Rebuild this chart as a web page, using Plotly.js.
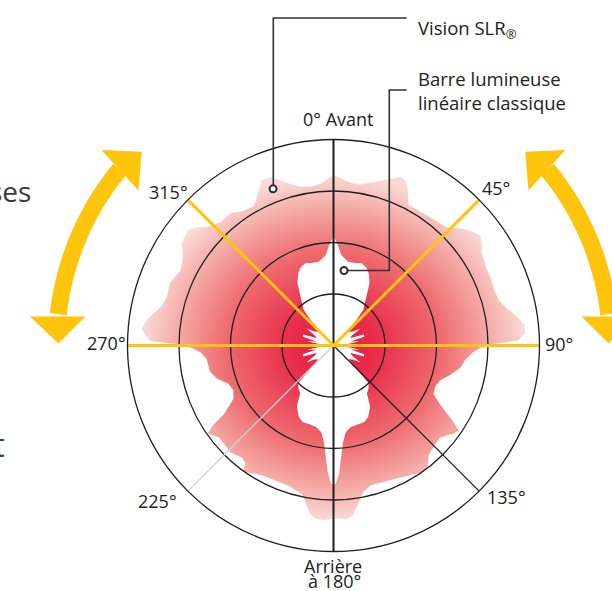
<!DOCTYPE html>
<html><head><meta charset="utf-8">
<script src="https://cdn.plot.ly/plotly-3.0.1.min.js"></script>
<style>html,body{margin:0;padding:0;background:#fff}#chart{width:612px;height:591px}</style>
</head><body><div id="chart"></div>
<script>
// ---- Data (compass angle in degrees, clockwise from "Avant"; radius in grid units) ----
const slrTheta = [0,3,6,9,13,17,20,22,24,26,28,32,37,41,44,47,50,53,55.5,57.5,60,63,67,71,75,78,81,84,86.5,88.5,89.5,91,93,96,100,104,108,112,116,119,122,124,126,128,131,135,139,142,145,149,154,160,165,168.5,171.5,173.5,176,178,180,183,186,188,190,192,198,203,208,212,215.5,217,219,224,228,231,235,236.5,238,242,246,250,254,258,264,267,269,270.5,271.3,273,275,278,280,283,286,291,296,300.5,304,308.5,311,313,318,322,326,330,332,334,336.5,339.5,342,344,348,352,356];
const slrR     = [3.31,3.24,3.18,3.16,3.25,3.36,3.47,3.53,3.48,3.30,3.10,3.09,3.12,3.14,3.18,3.34,3.47,3.56,3.50,3.40,3.36,3.33,3.32,3.30,3.33,3.45,3.60,3.74,3.72,3.58,3.05,2.85,2.70,2.58,2.50,2.34,2.18,2.13,2.16,2.37,2.70,2.93,2.90,2.82,2.73,2.76,2.82,2.97,3.01,2.93,2.86,2.82,2.81,2.90,3.14,3.32,3.38,3.36,3.36,3.40,3.38,3.30,3.10,2.95,2.86,2.85,2.87,2.93,3.02,2.85,2.81,2.88,2.86,2.85,2.98,2.80,2.50,2.20,2.13,2.17,2.35,2.45,2.48,2.58,2.75,3.00,3.55,3.65,3.74,3.65,3.55,3.42,3.37,3.40,3.31,3.39,3.55,3.61,3.50,3.37,3.24,3.26,3.15,3.11,3.20,3.32,3.50,3.49,3.38,3.28,3.15,3.12,3.16];

const barTheta = [0,2,5,10,15,19,23,26,30,34,37,40,42,43,48,54,58,62,66,70,74,77,81,84,88,92,96,99,103,106,110,114,118,122,126,132,134,136,137,141,145,149,154,158,163,168,172,174.5,176,177.5,179,180,181,182.5,184,185.5,188,192,197,202,206,211,215,219,223,224,226,228,234,238,242,246,250,254,257,261,264,268,272,276,279,283,286,290,294,298,302,306,312,317,318,320,323,326,330,334,337,341,345,350,355,358];
const barR     = [2.12,1.99,1.76,1.65,1.66,1.69,1.64,1.56,1.40,1.15,1.01,0.90,0.67,0.45,0.40,0.46,0.62,0.40,0.36,0.63,0.62,0.34,0.52,0.28,0.50,0.50,0.28,0.52,0.34,0.62,0.63,0.36,0.40,0.62,0.46,0.40,0.50,0.80,1.00,1.08,1.13,1.38,1.54,1.60,1.60,1.62,1.70,1.90,2.16,2.49,2.68,2.71,2.68,2.49,2.16,1.90,1.70,1.62,1.60,1.60,1.54,1.38,1.13,1.08,1.00,0.80,0.50,0.40,0.46,0.62,0.40,0.36,0.63,0.62,0.34,0.52,0.28,0.50,0.50,0.28,0.52,0.34,0.62,0.63,0.36,0.40,0.62,0.46,0.40,0.45,0.67,0.90,1.01,1.15,1.40,1.56,1.64,1.69,1.66,1.65,1.76,1.99];

const ringVals = [1, 2, 3];
const radialMax = 4;
const angleTickVals = [0, 45, 90, 135, 180, 225, 270, 315];
const angleTickText = ['0° Avant', '45°', '90°', '135°', 'Arrière<br>à 180°', '225°', '270°', '315°'];

const yellowAxisTheta = [270, 270, 90];
const yellowAxisR = [4, 0, 4];
const yellowDiagTheta = [315, 315, 45];
const yellowDiagR = [4, 0, 4];
const blackAxisTheta = [0, 0, 180];
const blackAxisR = [4, 0, 4];
const blackDiagTheta = [135, 135];
const blackDiagR = [0, 4];
const greyDiagTheta = [225, 225];
const greyDiagR = [0, 4];

const calloutTheta = [338.9, 8.0];
const calloutR = [3.26, 1.47];
const calloutText = ['Vision SLR<sub>®</sub>', 'Barre lumineuse<br>linéaire classique'];
const sideTexts = ['ses', 't'];

// ---- Layout geometry (pixels) ----
const W = 612, H = 591, CX = 333.5, CY = 345.5, RPX = 206;
const UNIT = RPX / radialMax;
const FONT = 'Open Sans, Noto Sans, sans-serif';
const YEL = '#FFC40C', INK = '#1e1e1e', TXT = '#222222';

// label placement per angle (pixel anchor, horizontal anchor)
const labelPlace = {
  0:   [[338.3, 119.5, 'center']],
  45:  [[479.5, 188.5, 'left']],
  90:  [[543.0, 343.5, 'left']],
  135: [[484.5, 497.0, 'left']],
  180: [[333.5, 565.5, 'center'], [334.2, 580.5, 'center']],
  225: [[179.0, 501.0, 'right']],
  270: [[127.5, 342.5, 'right']],
  315: [[190.0, 191.5, 'right']]
};

function toXY(rs, ts) {
  return {
    x: rs.map((r, i) => r * Math.sin(ts[i] * Math.PI / 180)),
    y: rs.map((r, i) => r * Math.cos(ts[i] * Math.PI / 180))
  };
}
const slrXY = toXY(slrR.concat([slrR[0]]), slrTheta.concat([slrTheta[0]]));
const barXY = toXY(barR.concat([barR[0]]), barTheta.concat([barTheta[0]]));

function P(x, y) { return (x / W).toFixed(5) + ',' + (1 - y / H).toFixed(5); }
function arcPath(a0, a1, R) {
  let d = '';
  for (let i = 0; i <= 30; i++) {
    const a = (a0 + (a1 - a0) * i / 30) * Math.PI / 180;
    d += (i ? 'L' : 'M') + P(CX + R * Math.sin(a), CY - R * Math.cos(a));
  }
  return d;
}
function poly(pts) { return 'M' + pts.map(p => P(p[0], p[1])).join('L') + 'Z'; }
function mirror(pts) { return pts.map(p => [2 * CX - p[0], p[1]]); }

const headTopL = [[141.7, 151.7], [101.5, 150], [138.5, 190.5]];
const headBotL = [[58.3, 343.5], [30, 316.5], [85.5, 316.5]];

const traces = [
  { type: 'scatter', x: slrXY.x, y: slrXY.y, mode: 'lines', fill: 'toself',
    line: { width: 0, color: 'rgba(0,0,0,0)' }, fillcolor: '#EE6A6E',
    fillgradient: { type: 'radial', colorscale: [[0, '#E5173F'], [0.25, '#E8304D'], [0.55, '#EE686D'], [0.8, '#F4A7A2'], [1, '#FADAD6']] },
    hoverinfo: 'skip', showlegend: false },
  { type: 'scatter', x: barXY.x, y: barXY.y, mode: 'lines', fill: 'toself',
    line: { width: 0, color: 'rgba(0,0,0,0)' }, fillcolor: '#ffffff', hoverinfo: 'skip', showlegend: false },
  { type: 'scatterpolar', r: greyDiagR, theta: greyDiagTheta, mode: 'lines', line: { color: '#cfcfcf', width: 1.3 }, hoverinfo: 'skip' },
  { type: 'scatterpolar', r: blackDiagR, theta: blackDiagTheta, mode: 'lines', line: { color: INK, width: 1.3 }, hoverinfo: 'skip' },
  { type: 'scatterpolar', r: blackAxisR, theta: blackAxisTheta, mode: 'lines', line: { color: INK, width: 2 }, hoverinfo: 'skip' },
  { type: 'scatterpolar', r: yellowAxisR, theta: yellowAxisTheta, mode: 'lines', line: { color: YEL, width: 3 }, hoverinfo: 'skip' },
  { type: 'scatterpolar', r: yellowDiagR, theta: yellowDiagTheta, mode: 'lines', line: { color: YEL, width: 3 }, hoverinfo: 'skip' },
  { type: 'scatterpolar', r: calloutR, theta: calloutTheta, mode: 'markers',
    marker: { size: 7, color: '#ffffff', line: { color: '#2a2a2a', width: 2 } }, hoverinfo: 'skip', cliponaxis: false }
];

const annotations = [];
angleTickVals.forEach((v, i) => {
  const lines = angleTickText[i].split('<br>');
  lines.forEach((t, j) => {
    const p = labelPlace[v][j];
    annotations.push({ xref: 'paper', yref: 'paper', x: p[0] / W, y: 1 - p[1] / H, xanchor: p[2], yanchor: 'middle',
      showarrow: false, text: t, font: { family: FONT, size: 18, color: TXT } });
  });
});
annotations.push(
  { xref: 'paper', yref: 'paper', x: 416 / W, y: 1 - 29 / H, xanchor: 'left', yanchor: 'middle', showarrow: false,
    text: calloutText[0], font: { family: FONT, size: 18.5, color: TXT } },
  { xref: 'paper', yref: 'paper', x: 416 / W, y: 1 - 90 / H, xanchor: 'left', yanchor: 'middle', showarrow: false, align: 'left',
    text: calloutText[1], font: { family: FONT, size: 18.5, color: TXT } },
  { xref: 'paper', yref: 'paper', x: 33 / W, y: 1 - 191 / H, xanchor: 'right', yanchor: 'middle', showarrow: false,
    text: sideTexts[0], font: { family: FONT, size: 28, color: '#3a3a3a' } },
  { xref: 'paper', yref: 'paper', x: 7 / W, y: 1 - 444 / H, xanchor: 'right', yanchor: 'middle', showarrow: false,
    text: sideTexts[1], font: { family: FONT, size: 33, color: '#3a3a3a' } }
);

const layout = {
  width: W, height: H, margin: { l: 0, r: 0, t: 0, b: 0 },
  paper_bgcolor: '#ffffff', plot_bgcolor: 'rgba(0,0,0,0)', showlegend: false,
  font: { family: FONT, color: INK },
  xaxis: { domain: [0, 1], range: [-CX / UNIT, (W - CX) / UNIT], visible: false, fixedrange: true },
  yaxis: { domain: [0, 1], range: [-(H - CY) / UNIT, CY / UNIT], visible: false, fixedrange: true },
  polar: {
    domain: { x: [(CX - RPX) / W, (CX + RPX) / W], y: [(H - CY - RPX) / H, (H - CY + RPX) / H] },
    bgcolor: 'rgba(0,0,0,0)',
    radialaxis: { range: [0, radialMax], tickvals: ringVals, showticklabels: false, ticks: '',
      showline: false, showgrid: true, gridcolor: INK, gridwidth: 1.3 },
    angularaxis: { rotation: 90, direction: 'clockwise', tickmode: 'array', tickvals: angleTickVals,
      ticktext: angleTickText, showticklabels: false, ticks: '', showgrid: false, showline: true,
      linecolor: INK, linewidth: 1.3 }
  },
  shapes: [
    { type: 'path', xref: 'paper', yref: 'paper', path: 'M' + P(406.7, 18) + 'L' + P(273.3, 18) + 'L' + P(273.3, 185.5), line: { color: '#333', width: 1.6 } },
    { type: 'path', xref: 'paper', yref: 'paper', path: 'M' + P(406.7, 90) + 'L' + P(389.3, 90) + 'L' + P(389.3, 270.5) + 'L' + P(348, 270.5), line: { color: '#333', width: 1.6 } },
    { type: 'path', xref: 'paper', yref: 'paper', path: arcPath(276.5, 309.5, 277), line: { color: YEL, width: 17 } },
    { type: 'path', xref: 'paper', yref: 'paper', path: arcPath(360 - 276.5, 360 - 309.5, 277), line: { color: YEL, width: 17 } },
    { type: 'path', xref: 'paper', yref: 'paper', path: poly(headTopL), fillcolor: YEL, line: { width: 0 } },
    { type: 'path', xref: 'paper', yref: 'paper', path: poly(headBotL), fillcolor: YEL, line: { width: 0 } },
    { type: 'path', xref: 'paper', yref: 'paper', path: poly(mirror(headTopL)), fillcolor: YEL, line: { width: 0 } },
    { type: 'path', xref: 'paper', yref: 'paper', path: poly(mirror(headBotL)), fillcolor: YEL, line: { width: 0 } }
  ],
  annotations: annotations
};

Plotly.newPlot('chart', traces, layout, { staticPlot: true, displayModeBar: false });
</script>
</body></html>
